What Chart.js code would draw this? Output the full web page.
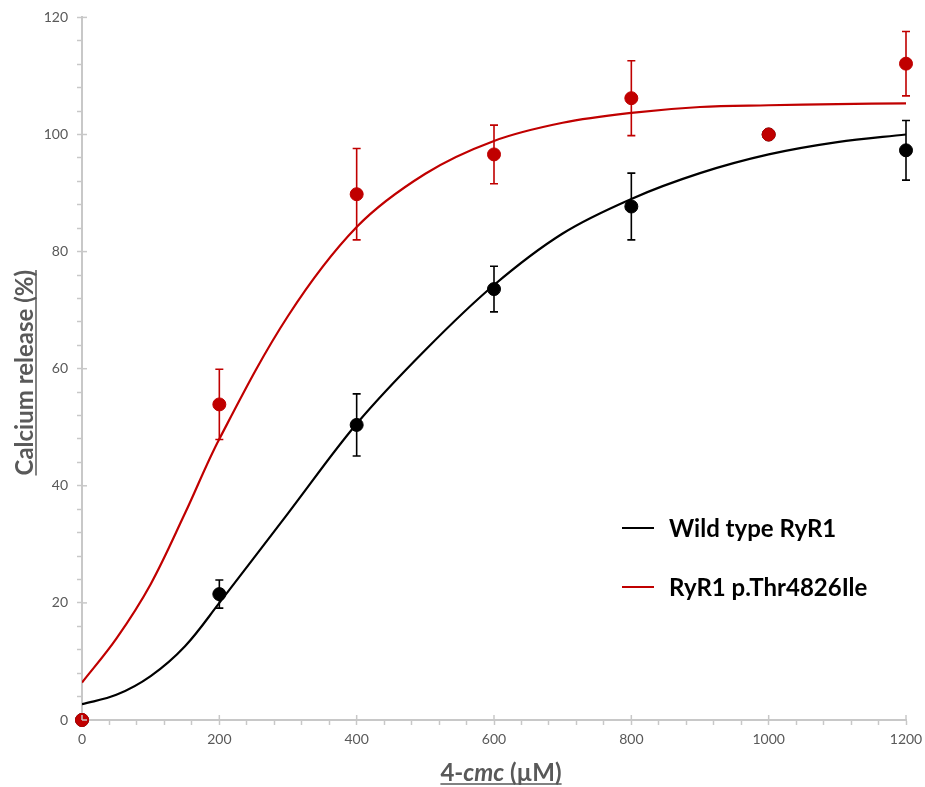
<!DOCTYPE html>
<html lang="en">
<head>
  <meta charset="UTF-8" />
  <title>Calcium release vs 4-cmc</title>
  <style>
    body { margin: 0; background: #fff; }
    #wrap { width: 925px; height: 787px; }
  </style>
</head>
<body>
  <div id="wrap"><canvas id="grafico"></canvas></div>

  <script src="https://cdn.jsdelivr.net/npm/chart.js"></script>
  <script>
    // measured points (4-cmc concentration, µM)
    const doses = [0, 200, 400, 600, 800, 1000, 1200];
    const wtMean = [0, 21.5, 50.4, 73.6, 87.7, 100, 97.3];
    const wtErr = [null, 2.4, 5.3, 3.9, 5.7, null, 5.1];
    const mutMean = [0, 53.9, 89.8, 96.6, 106.2, 100, 112.1];
    const mutErr = [null, 6.0, 7.8, 5.0, 6.4, null, 5.5];

    // fitted curves
    const curveX = [0, 50, 100, 150, 200, 300, 400, 500, 600, 700, 800, 900, 1000, 1100, 1200];
    const wtCurve = [2.7, 4.3, 7.5, 12.6, 20.0, 35.3, 50.6, 63.2, 74.3, 83.1, 89.0, 93.4, 96.6, 98.7, 100.0];
    const mutCurve = [6.4, 13.9, 23.2, 35.3, 48.0, 69.0, 84.2, 93.3, 98.9, 102.0, 103.7, 104.7, 105.0, 105.2, 105.3];

    const xTicks = [0, 200, 400, 600, 800, 1000, 1200];
    const yTicks = [0, 20, 40, 60, 80, 100, 120];

    const RED = '#c00000';
    const BLACK = '#000000';
    const AXIS = '#c8c8c8';
    const TEXT = '#595959';

    const pts = (xs, ys) => xs.map((x, i) => ({ x: x, y: ys[i] }));

    // error bars, drawn under the points
    const errorBars = {
      id: 'errorBars',
      beforeDatasetsDraw(chart) {
        const ctx = chart.ctx;
        const xs = chart.scales.x, ys = chart.scales.y;
        const sets = [[wtMean, wtErr, BLACK], [mutMean, mutErr, RED]];
        ctx.save();
        ctx.lineWidth = 1.6;
        sets.forEach(([m, e, col]) => {
          ctx.strokeStyle = col;
          doses.forEach((d, i) => {
            if (e[i] == null) return;
            const px = xs.getPixelForValue(d);
            const top = ys.getPixelForValue(m[i] + e[i]);
            const bot = ys.getPixelForValue(m[i] - e[i]);
            ctx.beginPath();
            ctx.moveTo(px, top); ctx.lineTo(px, bot);
            ctx.moveTo(px - 4, top); ctx.lineTo(px + 4, top);
            ctx.moveTo(px - 4, bot); ctx.lineTo(px + 4, bot);
            ctx.stroke();
          });
        });
        ctx.restore();
      }
    };

    // major ticks cross the axis, titles and legend
    const decor = {
      id: 'decor',
      afterDraw(chart) {
        const ctx = chart.ctx;
        const a = chart.chartArea;
        const xs = chart.scales.x, ys = chart.scales.y;
        ctx.save();
        ctx.strokeStyle = AXIS;
        ctx.lineWidth = 1.5;
        xTicks.forEach(v => {
          const px = xs.getPixelForValue(v);
          ctx.beginPath(); ctx.moveTo(px, a.bottom); ctx.lineTo(px, a.bottom - 5); ctx.stroke();
        });
        yTicks.forEach(v => {
          const py = ys.getPixelForValue(v);
          ctx.beginPath(); ctx.moveTo(a.left, py); ctx.lineTo(a.left + 5, py); ctx.stroke();
        });

        // y title
        ctx.fillStyle = TEXT;
        ctx.strokeStyle = TEXT;
        ctx.font = 'bold 24px Lato';
        ctx.textBaseline = 'alphabetic';
        const yt = 'Calcium release (%)';
        const w = ctx.measureText(yt).width;
        ctx.translate(33, (a.top + a.bottom) / 2 + 4);
        ctx.rotate(-Math.PI / 2);
        ctx.fillText(yt, -w / 2, 0);
        ctx.lineWidth = 1.5;
        ctx.beginPath(); ctx.moveTo(-w / 2, 3); ctx.lineTo(w / 2, 3); ctx.stroke();
        ctx.setTransform(1, 0, 0, 1, 0, 0);

        // x title with italic part
        const parts = [['4-', 'bold 24px Lato'], ['cmc', 'italic bold 24px Lato'], [' (µM)', 'bold 24px Lato']];
        let total = 0;
        parts.forEach(p => { ctx.font = p[1]; total += ctx.measureText(p[0]).width; });
        let x0 = (a.left + a.right) / 2 + 7 - total / 2;
        const by = 781;
        const start = x0;
        parts.forEach(p => {
          ctx.font = p[1];
          ctx.fillText(p[0], x0, by);
          x0 += ctx.measureText(p[0]).width;
        });
        ctx.beginPath(); ctx.moveTo(start, by + 3); ctx.lineTo(x0, by + 3); ctx.stroke();

        // legend
        const items = [['Wild type RyR1', BLACK, 528], ['RyR1 p.Thr4826Ile', RED, 587]];
        ctx.font = 'bold 24px Lato';
        ctx.textBaseline = 'middle';
        items.forEach(([label, col, y]) => {
          ctx.strokeStyle = col;
          ctx.lineWidth = 2;
          ctx.beginPath(); ctx.moveTo(622, y); ctx.lineTo(654, y); ctx.stroke();
          ctx.fillStyle = '#000';
          ctx.fillText(label, 669, y + 1);
        });
        ctx.restore();
      }
    };

    const ctx = document.getElementById('grafico').getContext('2d');
    new Chart(ctx, {
      type: 'scatter',
      data: {
        datasets: [
          {
            label: 'RyR1 p.Thr4826Ile',
            data: pts(doses, mutMean),
            backgroundColor: RED,
            borderColor: RED,
            pointRadius: 6.5,
            clip: false,
            order: 1
          },
          {
            label: 'Wild type RyR1',
            data: pts(doses, wtMean),
            backgroundColor: BLACK,
            borderColor: BLACK,
            pointRadius: 6.5,
            clip: false,
            order: 2
          },
          {
            label: 'RyR1 p.Thr4826Ile fit',
            type: 'line',
            data: pts(curveX, mutCurve),
            borderColor: RED,
            borderWidth: 2.2,
            pointRadius: 0,
            fill: false,
            tension: 0.35,
            order: 3
          },
          {
            label: 'Wild type RyR1 fit',
            type: 'line',
            data: pts(curveX, wtCurve),
            borderColor: BLACK,
            borderWidth: 2.2,
            pointRadius: 0,
            fill: false,
            tension: 0.35,
            order: 4
          }
        ]
      },
      options: {
        responsive: true,
        maintainAspectRatio: false,
        animation: false,
        layout: { padding: { top: 17, right: 19, left: 0, bottom: 0 } },
        plugins: {
          legend: { display: false },
          tooltip: { enabled: false }
        },
        scales: {
          x: {
            type: 'linear',
            min: 0,
            max: 1200,
            afterFit: s => { s.height = 67; s.paddingRight = 0; s.paddingLeft = 0; },
            ticks: {
              stepSize: 40,
              autoSkip: false,
              maxRotation: 0,
              padding: 6,
              color: TEXT,
              font: { family: 'Lato', size: 14 },
              callback: v => (v % 200 === 0 ? v : '')
            },
            grid: { drawOnChartArea: false, tickLength: 5, tickColor: AXIS, tickWidth: 1.5 },
            border: { color: AXIS, width: 2 }
          },
          y: {
            min: 0,
            max: 120,
            afterFit: s => { s.width = 82; },
            ticks: {
              stepSize: 4,
              autoSkip: false,
              padding: 9,
              color: TEXT,
              font: { family: 'Lato', size: 14 },
              callback: v => (v % 20 === 0 ? v : '')
            },
            grid: { drawOnChartArea: false, tickLength: 5, tickColor: AXIS, tickWidth: 1.5 },
            border: { color: AXIS, width: 2 }
          }
        }
      },
      plugins: [errorBars, decor]
    });
  </script>
</body>
</html>
